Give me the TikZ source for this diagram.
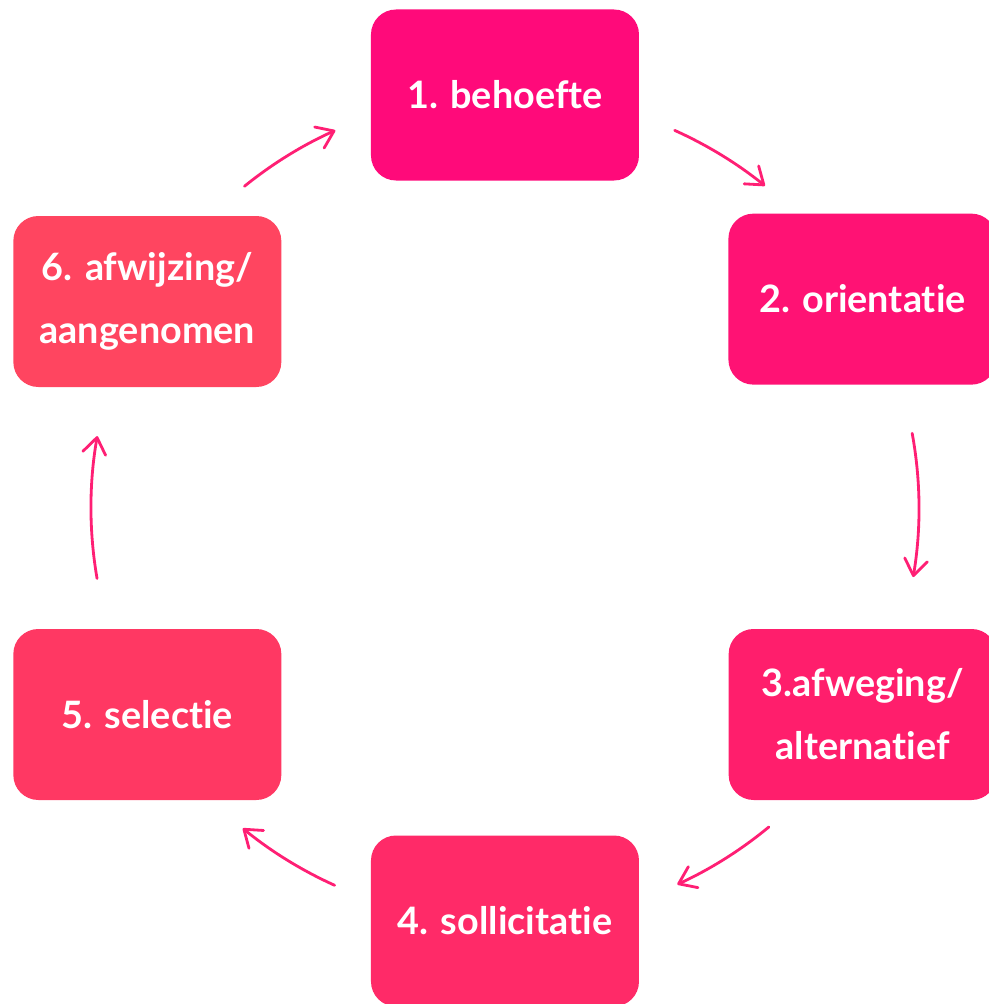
\documentclass[tikz,border=0pt]{standalone}
\usepackage{fontspec}
\setmainfont{Lato}[Ligatures={NoCommon,NoContextual}]
\usetikzlibrary{arrows.meta}
\definecolor{stepone}{HTML}{FF0A7A}
\definecolor{steptwo}{HTML}{FF1274}
\definecolor{stepthree}{HTML}{FF1E6C}
\definecolor{stepfour}{HTML}{FF2A68}
\definecolor{stepfive}{HTML}{FF3863}
\definecolor{stepsix}{HTML}{FF4560}
\definecolor{flowpink}{HTML}{FF1F74}
\begin{document}
\begin{tikzpicture}[
        phase/.style={rounded corners=0.5cm, minimum width=5.36cm, minimum height=3.42cm,
            text=white, align=center, font=\bfseries\fontsize{21.5}{35.8}\selectfont},
        flow/.style={draw=flowpink, line width=1.6pt, line cap=round,
            -{Straight Barb[length=3.2mm,width=4.6mm,round]}}
    ]
        \useasboundingbox (-10.1,-9.92) rectangle (9.68,10.16);
        \coordinate (c) at (0,0);
        \node [phase, fill=stepone] (b1) at (90:8.26) {1. behoefte};
        \node [phase, fill=steptwo] (b2) at (30.3:8.28) {2. orientatie};
        \node [phase, fill=stepthree] (b3) at (-30:8.26) {3.afweging/\\alternatief};
        \node [phase, fill=stepfour] (b4) at (-90:8.26) {4. sollicitatie};
        \node [phase, fill=stepfive] (b5) at (-150:8.26) {5. selectie};
        \node [phase, fill=stepsix] (b6) at (150:8.26) {6. afwijzing/\\aangenomen};
        \foreach \s/\e in {65.8/51.1, 10.4/-9.6, -50.4/-65.4, -114.3/-129.3, 189.8/170, 129/114.2}
            \draw [flow] ([shift={(\s:8.28)}]c) arc [start angle=\s, end angle=\e, radius=8.28];
    \end{tikzpicture}
\end{document}
